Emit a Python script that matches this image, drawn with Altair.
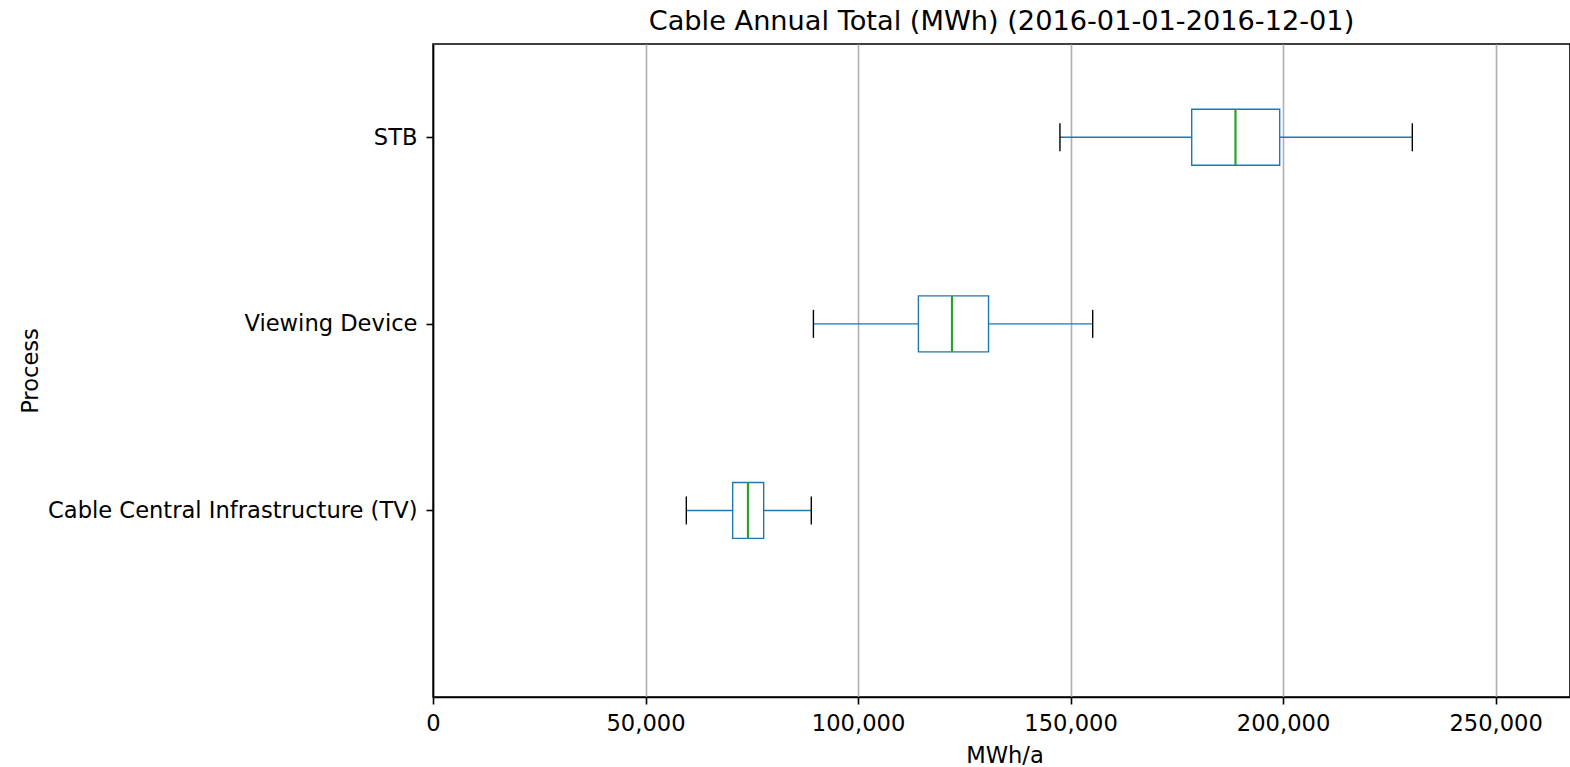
import altair as alt
import pandas as pd

categories = ["Cable Central Infrastructure (TV)", "Viewing Device", "STB"]
whisker_low = [59600, 89500, 147500]
q1 = [70500, 114200, 178500]
median = [74100, 122100, 188800]
q3 = [77800, 130700, 199200]
whisker_high = [89000, 155200, 230400]
x_ticks = [0, 50000, 100000, 150000, 200000, 250000]

BOX_HALF = 0.15
CAP_HALF = 0.075

rows = []
for i, c in enumerate(categories):
    p = i + 1
    rows.append(dict(cat=c, pos=p, lo=whisker_low[i], q1=q1[i], med=median[i],
                     q3=q3[i], hi=whisker_high[i],
                     box_lo=p - BOX_HALF, box_hi=p + BOX_HALF,
                     cap_lo=p - CAP_HALF, cap_hi=p + CAP_HALF))
df = pd.DataFrame(rows)

FONT = "DejaVu Sans"
C0 = "#1f77b4"
FS = 22.6
W, H = 1137, 653
xscale = alt.Scale(domain=[0, 267500], nice=False, zero=False)
yscale = alt.Scale(domain=[0, 3.5], nice=False, zero=False)

label_expr = " : ".join(
    [f"datum.value == {i+1} ? '{c}'" for i, c in enumerate(categories)]) + " : ''"

xaxis = alt.Axis(values=x_ticks, labelExpr="format(datum.value, ',')",
                 title="MWh/a", grid=True,
                 gridColor="#b0b0b0", gridWidth=1.6, tickSize=7, tickWidth=1.6,
                 tickColor="black", domainColor="black", domainWidth=1.6,
                 labelPadding=8, labelFontSize=FS,
                 titleFontSize=FS, labelColor="black", titleColor="black",
                 titleFontWeight="normal", labelFont=FONT, titleFont=FONT,
                 titleBaseline="alphabetic", titleY=65, titleX=W / 2 + 3,
                 titleAlign="center", labelFlush=False)
yaxis = alt.Axis(values=[1, 2, 3], labelExpr=label_expr, title="Process",
                 grid=False, tickSize=7, tickWidth=1.6, tickColor="black",
                 domainColor="black", domainWidth=1.6, labelPadding=9,
                 labelLimit=0, labelFontSize=FS,
                 titleFontSize=FS, labelColor="black", titleColor="black",
                 titleFontWeight="normal", labelFont=FONT, titleFont=FONT,
                 titleAngle=270, titleBaseline="alphabetic", titleAlign="center",
                 titleX=-396, titleY=H / 2)


def X(f):
    return alt.X(f, scale=xscale, axis=xaxis, title="MWh/a")


def Y(f):
    return alt.Y(f, scale=yscale, axis=yaxis, title="Process")


base = alt.Chart(df)

box = base.mark_rect(fill="white", stroke=C0, strokeWidth=1.4).encode(
    x=X("q1:Q"), x2="q3:Q", y=Y("box_lo:Q"), y2="box_hi:Q")
wl = base.mark_rule(color=C0, strokeWidth=1.4).encode(
    x=X("lo:Q"), x2="q1:Q", y=Y("pos:Q"))
wr = base.mark_rule(color=C0, strokeWidth=1.4).encode(
    x=X("q3:Q"), x2="hi:Q", y=Y("pos:Q"))
capl = base.mark_rule(color="black", strokeWidth=1.4).encode(
    x=X("lo:Q"), y=Y("cap_lo:Q"), y2="cap_hi:Q")
caph = base.mark_rule(color="black", strokeWidth=1.4).encode(
    x=X("hi:Q"), y=Y("cap_lo:Q"), y2="cap_hi:Q")
med = base.mark_rule(color="#2ca02c", strokeWidth=2.2).encode(
    x=X("med:Q"), y=Y("box_lo:Q"), y2="box_hi:Q")

chart = alt.layer(box, wl, wr, capl, caph, med).properties(
    width=W, height=H,
    title=alt.TitleParams("Cable Annual Total (MWh) (2016-01-01-2016-12-01)",
                          font=FONT, fontSize=27.2, fontWeight="normal",
                          color="black", anchor="middle", offset=8),
    autosize=alt.AutoSizeParams(type="none"),
    padding={"left": 433, "top": 44, "right": 0, "bottom": 70},
).configure(background="white").configure_view(stroke="black", strokeWidth=1.6)

chart.save("out.html", embed_options={"renderer": "svg", "actions": False})
